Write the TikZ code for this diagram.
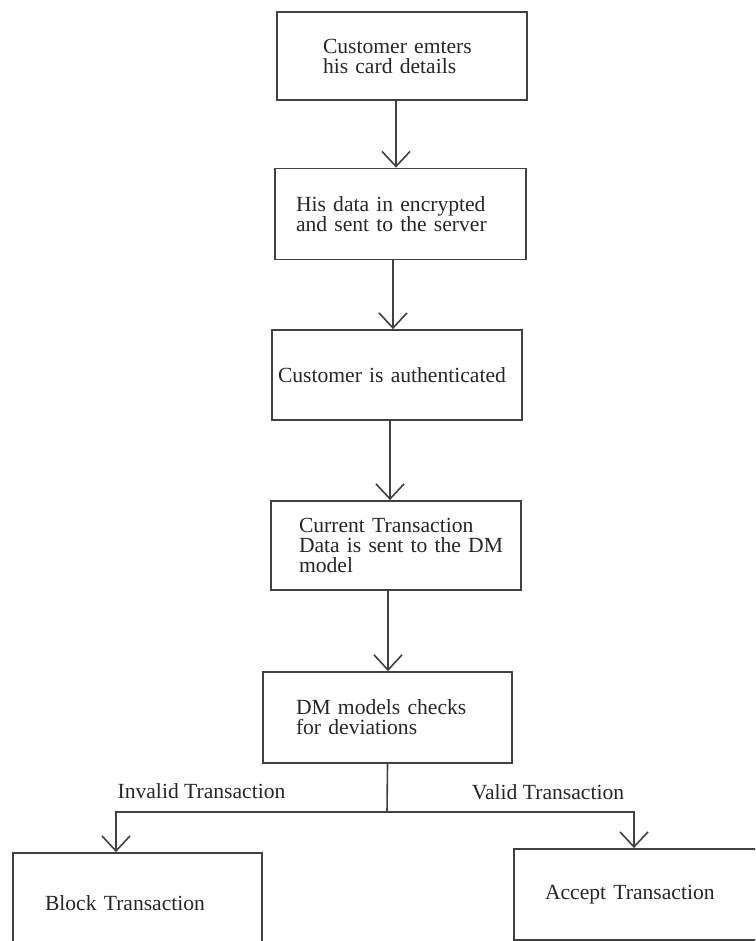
\documentclass[tikz,border=0pt]{standalone}
\usepackage{fontspec}
\setmainfont{Liberation Serif}
\usetikzlibrary{positioning,arrows.meta}

\begin{document}
\begin{tikzpicture}[x=0.5pt,y=-0.5pt,
    stepbox/.style={draw=black!75,line width=0.9pt,rectangle,align=left,text=black!85,
      font=\fontsize{10.8}{10}\selectfont,inner ysep=0pt,minimum height=45pt},
    flow/.style={draw=black!75,line width=0.8pt,-{Straight Barb[length=7.5pt,width=14pt]}},
    branch/.style={text=black!85,font=\fontsize{10.8}{10}\selectfont}]
  \useasboundingbox (0,0) rectangle (755,941);
  \clip (0,0) rectangle (755,941);
  \node[stepbox,minimum height=44pt,inner xsep=23pt,text width=79pt] (card) at (402,56) {Customer emters\\his card details};
  \node[stepbox,minimum height=45.5pt,inner xsep=10.5pt,text width=104.5pt] (enc) at (400.5,214) {His data in encrypted\\and sent to the server};
  \node[stepbox,inner xsep=3pt,text width=119pt] (auth) at (397,375) {Customer is authenticated};
  \node[stepbox,minimum height=44.5pt,inner xsep=14pt,text width=97pt] (cur) at (396,545.5) {Current Transaction\\\mbox{Data is sent to the DM}\\model};
  \node[stepbox,minimum height=45.5pt,inner xsep=16.5pt,text width=91.5pt] (dm) at (387.5,717.5) {DM models checks\\for deviations};
  \node[stepbox,minimum height=50pt,inner xsep=16pt,text width=92.5pt] (block) at (137.5,903) {Block Transaction};
  \node[stepbox,minimum height=45.5pt,inner xsep=15.5pt,text width=94pt] (accept) at (639,894.5) {Accept Transaction};
  \node[branch] (invalid) at (201.5,791) {Invalid Transaction};
  \node[branch] (valid) at (548,792) {Valid Transaction};
  \coordinate (split) at (387,812);
  \draw[flow] ([xshift=-3pt]card.south) -- ([xshift=-3pt]card.south |- enc.north);
  \draw[flow] ([xshift=-3.75pt]enc.south) -- ([xshift=-3.75pt]enc.south |- auth.north);
  \draw[flow] ([xshift=-3.5pt]auth.south) -- ([xshift=-3.5pt]auth.south |- cur.north);
  \draw[flow] ([xshift=-4pt]cur.south) -- ([xshift=-4pt]cur.south |- dm.north);
  \draw[draw=black!75,line width=0.8pt] (dm.south) -- (split);
  \draw[flow] (split) -| ([xshift=-10.75pt]block.north);
  \draw[flow] (split) -| ([xshift=-2.5pt]accept.north);
\end{tikzpicture}
\end{document}
